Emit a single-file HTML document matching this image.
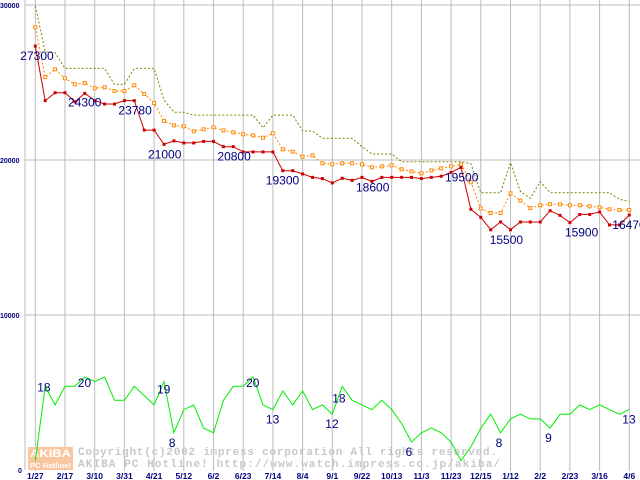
<!DOCTYPE html>
<html><head><meta charset="utf-8"><style>
html,body{margin:0;padding:0;background:#fff;}
svg{display:block;}
</style></head><body>
<svg id="chart" width="640" height="480" xmlns="http://www.w3.org/2000/svg" font-family="Liberation Sans, sans-serif">
<g id="grid"></g>
<g id="wm">
 <rect x="28" y="447" width="45" height="12" fill="#f9c6a0"/>
 <rect x="28" y="459" width="45" height="11" fill="#f9c6a0"/>
 <text x="30" y="457" font-size="11" font-weight="bold" fill="#fff" textLength="41" lengthAdjust="spacingAndGlyphs">AKIBA</text>
 <text x="30" y="468" font-size="7" font-weight="bold" fill="#fff" textLength="41" lengthAdjust="spacingAndGlyphs">PC Hotline!</text>
 <text x="78" y="455" font-size="11" font-family="Liberation Mono, monospace" font-weight="bold" fill="#c8c8c8" textLength="419" lengthAdjust="spacing">Copyright(c)2002 impress corporation All rights reserved.</text>
 <text x="78" y="467" font-size="11" font-family="Liberation Mono, monospace" font-weight="bold" fill="#c8c8c8" textLength="422" lengthAdjust="spacing">AKIBA PC Hotline!  http://www.watch.impress.co.jp/akiba/</text>
</g>
<g id="series"></g>
<g id="labels"></g>
</svg>
<script>
const xLabels = ["1/27","2/17","3/10","3/31","4/21","5/12","6/2","6/23","7/14","8/4","9/1","9/22","10/13","11/3","11/23","12/15","1/12","2/2","2/23","3/16","4/6"];
const yTicks = [0,10000,20000,30000];
const minPrice = [27350,23830,24340,24340,23760,24300,23830,23610,23610,23830,23830,21930,21930,21010,21230,21100,21100,21200,21200,20860,20860,20520,20520,20520,20520,19310,19310,19100,18880,18800,18520,18820,18690,18880,18620,18880,18880,18880,18880,18800,18880,18950,19200,19520,16820,16300,15500,16000,15500,16000,16000,16000,16730,16430,15960,16490,16490,16650,15810,15810,16450];
const avgPrice = [28560,25350,25850,25270,24880,24970,24630,24690,24450,24450,24820,24260,23680,22520,22240,22170,21850,21980,22110,21910,21790,21660,21590,21440,21720,20690,20540,20220,20300,19790,19720,19790,19790,19720,19530,19590,19660,19400,19270,19140,19330,19460,19590,19720,18560,16880,16580,16580,17850,17380,16900,17080,17150,17140,17080,17080,17010,16950,16820,16770,16770];
const maxPrice = [29940,26990,26920,25910,25910,25910,25910,25910,24880,24880,25910,25910,25910,23870,23080,23080,22900,22900,22900,22900,22900,22900,22900,22080,22900,22900,22900,21870,21870,21400,21400,21400,21400,20860,20390,20390,20390,19890,19890,19890,19890,19890,19890,19890,19760,17890,17890,17890,19830,17970,17530,18600,17890,17890,17890,17890,17890,17890,17890,17460,17330];
const shopCount = [2,18,14,18,18,20,19,20,15,15,18,16,14,19,8,13,14,9,8,15,18,18,20,14,13,17,14,17,13,14,12,18,15,14,13,15,13,10,6,8,9,8,6,2,5,9,12,8,11,12,11,11,9,12,12,14,13,14,13,12,13];
const priceLabels = [[0,"27300",-15,14],[3,"24300",3,14],[9,"23780",-6,14],[13,"21000",-16,14],[19,"20800",-6,14],[25,"19300",-17,14],[33,"18600",-6,14],[43,"19500",-16,14],[46,"15500",-1,14],[54,"15900",-5,14],[60,"16470",-17,14]];
const countLabels = [[1,"18",-8,5],[5,"20",-7,10],[13,"19",-7,12],[14,"8",-5,14],[22,"20",-7,10],[24,"13",-7,14],[30,"12",-7,14],[31,"18",-10,16],[38,"6",-6,14],[47,"8",-5,14],[52,"9",-5,14],[60,"13",-7,14]];

const NS="http://www.w3.org/2000/svg";
const X0=35.3, DX=9.9, Y0=470, YT=5;
function xAt(i){return X0+DX*i;}
function yPrice(v){return Y0-(v/30000)*(Y0-YT);}
function yCount(v){return Y0-(v/100)*(Y0-YT);}
function mk(tag,attrs,parent){const e=document.createElementNS(NS,tag);for(const k in attrs)e.setAttribute(k,attrs[k]);parent.appendChild(e);return e;}
const grid=document.getElementById('grid'),ser=document.getElementById('series'),lab=document.getElementById('labels');

yTicks.forEach(t=>{
  const y=yPrice(t);
  if(t>0){const l=mk('line',{x1:25,x2:640,y1:y,y2:y,stroke:'#bbb','stroke-width':1},grid);
  
  }
  const tx=mk('text',{x:t===0?18:0,y:y+3,'font-size':7,'font-weight':'bold',fill:'#000080'},grid);
  tx.textContent=t;
  
  
});
const ax=mk('line',{x1:25,x2:25,y1:0,y2:470,stroke:'#bbb','stroke-width':1},grid);


xLabels.forEach((s,k)=>{
  const x=xAt(k*3);
  const l=mk('line',{x1:x,x2:x,y1:0,y2:471,stroke:'#bbb','stroke-width':1},grid);
  
  
  const t=mk('text',{x:x,y:479,'font-size':8.5,'font-weight':'bold',fill:'#000080','text-anchor':'middle'},grid);
  t.textContent=s;
  
  
});

function line(arr,yf,color,dash,name){
  const p=arr.map((v,i)=>xAt(i).toFixed(1)+','+yf(v).toFixed(1)).join(' ');
  const a={points:p,fill:'none',stroke:color,'stroke-width':1};
  if(dash)a['stroke-dasharray']=dash;
  const e=mk('polyline',a,ser);
  
  
}
line(maxPrice,yPrice,'#808000','2,2','max-price-line');
line(avgPrice,yPrice,'#ff8800','2,2','avg-price-line');
avgPrice.forEach((v,i)=>{const r=mk('rect',{x:xAt(i)-1.5,y:yPrice(v)-1.5,width:3,height:3,fill:'#fff',stroke:'#ff8800','stroke-width':1},ser);
  
  });
line(minPrice,yPrice,'#cc0000',null,'min-price-line');
minPrice.forEach((v,i)=>{const r=mk('rect',{x:xAt(i)-1.5,y:yPrice(v)-1.5,width:3,height:3,fill:'#cc0000'},ser);
  
  });
line(shopCount,yCount,'#00ee00',null,'shop-count-line');

priceLabels.forEach(([i,s,dx,dy])=>{const t=mk('text',{x:xAt(i)+dx,y:yPrice(minPrice[i])+dy,'font-size':12,fill:'#000080'},lab);
  t.textContent=s;
  
  });
countLabels.forEach(([i,s,dx,dy])=>{const t=mk('text',{x:xAt(i)+dx,y:yCount(shopCount[i])+dy,'font-size':12,fill:'#000080'},lab);
  t.textContent=s;
  
  });
</script>
</body></html>
